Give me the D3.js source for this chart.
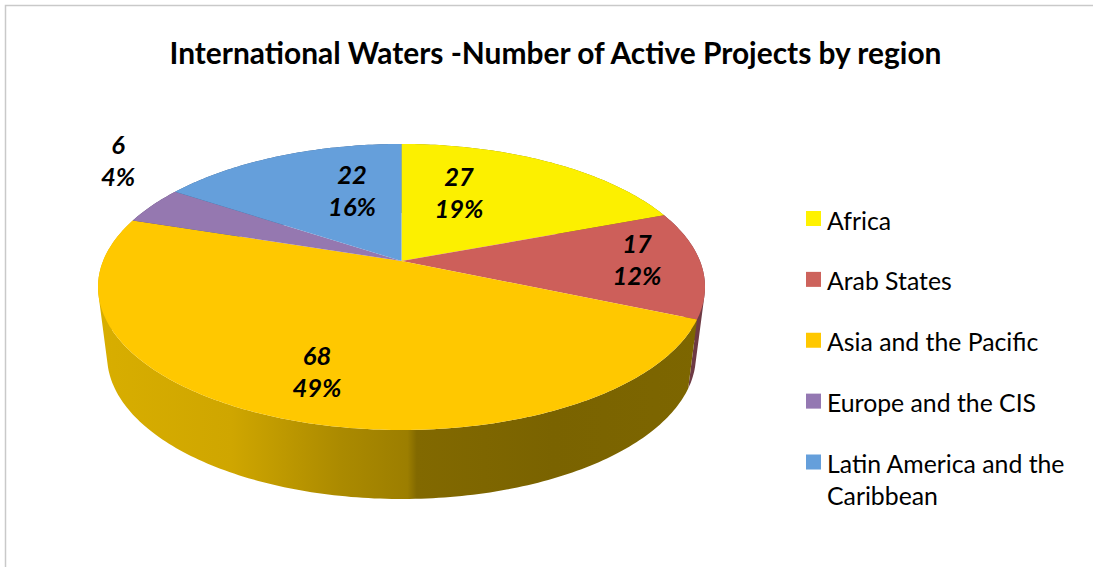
<!DOCTYPE html>
<html>
<head>
<meta charset="utf-8">
<script src="https://cdn.jsdelivr.net/npm/d3@7"></script>
<style>
  html, body { margin: 0; padding: 0; background: #fff; overflow: hidden; }
  text { font-family: Lato, "Open Sans", sans-serif; fill: #000; }
</style>
</head>
<body>
<svg id="chart" width="1093" height="567"></svg>
<script>
const titleText = "International Waters -Number of Active Projects by region"
const regions = ["Africa", "Arab States", "Asia and the Pacific", "Europe and the CIS", "Latin America and the Caribbean"]
const projects = [27, 17, 68, 6, 22]
const colors = ["#fcf000", "#cd5f5a", "#ffc800", "#9578b0", "#659fdb"]
const legendColors = ["#fff200", "#cd635c", "#ffc800", "#9478b2", "#659fdb"]
const sideColors = ["#8a8400", "#6e3a44", "#c9a000", "#5a4870", "#3d608a"]
const legendLines = [["Africa"], ["Arab States"], ["Asia and the Pacific"], ["Europe and the CIS"], ["Latin America and the", "Caribbean"]]
// where excel left the data labels (centre x, y of the first line)
const labelSpots = [[459, 186], [637, 253], [317, 365], [118, 154], [352, 184]]

const svg = d3.select("#chart")
const total = d3.sum(projects)
const pct = d3.format(".0%")

// frame, only top and left are in the crop
svg.append("path").attr("d", "M5.5,567V5.5H1093").attr("fill", "none").attr("stroke", "#c9c9c9").attr("stroke-width", 1.5)

svg.append("text").attr("x", 555.5).attr("y", 63.5).attr("text-anchor", "middle")
    .attr("font-size", 29.9).attr("font-weight", 700).text(titleText)

// pie is tilted with perspective: apex sits above the middle of the ellipse
const cx = 401.5, apexY = 261, topY = 144, frontY = 430
const persp = (2 * apexY - topY - frontY) / (frontY - topY)
const tiltA = frontY * (1 + persp) - apexY
const radius = 303.5 * Math.sqrt(1 - persp * persp)
const depth = 69, bottomShrink = 0.97

function topPoint(angle, r) {
    const u = r * Math.sin(angle), v = -r * Math.cos(angle)
    const w = 1 + persp * v
    return [cx + radius * u / w, (tiltA * v + apexY) / w]
}
function bottomPoint(angle) {
    const p = topPoint(angle, 1)
    return [cx + (p[0] - cx) * bottomShrink, p[1] + depth]
}

const slices = d3.pie().sort(null).value(d => d)(projects)
const line = d3.line()
function arcSteps(s) {
    const n = Math.max(4, Math.ceil((s.endAngle - s.startAngle) * 60))
    return d3.range(n + 1).map(i => s.startAngle + (s.endAngle - s.startAngle) * i / n)
}

// gold wall shading runs left to right, with the step just past the front
const defs = svg.append("defs")
const grad = defs.append("linearGradient").attr("id", "goldSide")
    .attr("gradientUnits", "userSpaceOnUse").attr("x1", 98).attr("x2", 705).attr("y1", 0).attr("y2", 0)
const goldStops = [[0, "#d8ae00"], [0.22, "#cfa600"], [0.4, "#ab8a00"], [0.51, "#9c7e00"], [0.525, "#826900"], [0.75, "#7a6300"], [1, "#7d6600"]]
grad.selectAll("stop").data(goldStops).join("stop")
    .attr("offset", d => d[0]).attr("stop-color", d => d[1])

// walls first, tops get painted over them
svg.append("g").selectAll("path").data(slices).join("path")
    .attr("fill", (d, i) => i === 2 ? "url(#goldSide)" : sideColors[i])
    .attr("d", d => {
        const steps = arcSteps(d)
        return d3.pairs(steps).map(([a, b]) => {
            const quad = [topPoint(a, 1), topPoint(b, 1), bottomPoint(b), bottomPoint(a)]
            // same winding for all quads or the overlap at the tangent cancels out
            if (d3.polygonArea(quad) < 0) quad.reverse()
            return line(quad) + "Z"
        }).join("")
    })

svg.append("g").selectAll("path").data(slices).join("path")
    .attr("fill", (d, i) => colors[i])
    .attr("d", d => line([[cx, apexY]].concat(arcSteps(d).map(a => topPoint(a, 1)))) + "Z")

// data labels
const labels = svg.append("g").selectAll("text").data(slices).join("text")
    .attr("text-anchor", "middle").attr("font-size", 25.5)
    .attr("font-weight", 700).attr("font-style", "italic")
    .attr("transform", (d, i) => `translate(${labelSpots[i][0]},${labelSpots[i][1]})`)
labels.append("tspan").attr("x", 0).attr("y", 0).text(d => d.value)
labels.append("tspan").attr("x", 0).attr("y", 32).text(d => pct(d.value / total))

// legend
const legendY = d3.scalePoint().domain(regions).range([218.5, 462])
const legend = svg.append("g").selectAll("g").data(regions).join("g")
    .attr("transform", d => `translate(806,${legendY(d)})`)
legend.append("rect").attr("x", 0).attr("y", -7.5).attr("width", 15).attr("height", 15)
    .attr("fill", (d, i) => legendColors[i])
legend.each(function (d, i) {
    d3.select(this).selectAll("text").data(legendLines[i]).join("text")
        .attr("x", 21).attr("y", (t, j) => 11 + j * 32)
        .attr("font-size", 24.8).text(t => t)
})
</script>
</body>
</html>
